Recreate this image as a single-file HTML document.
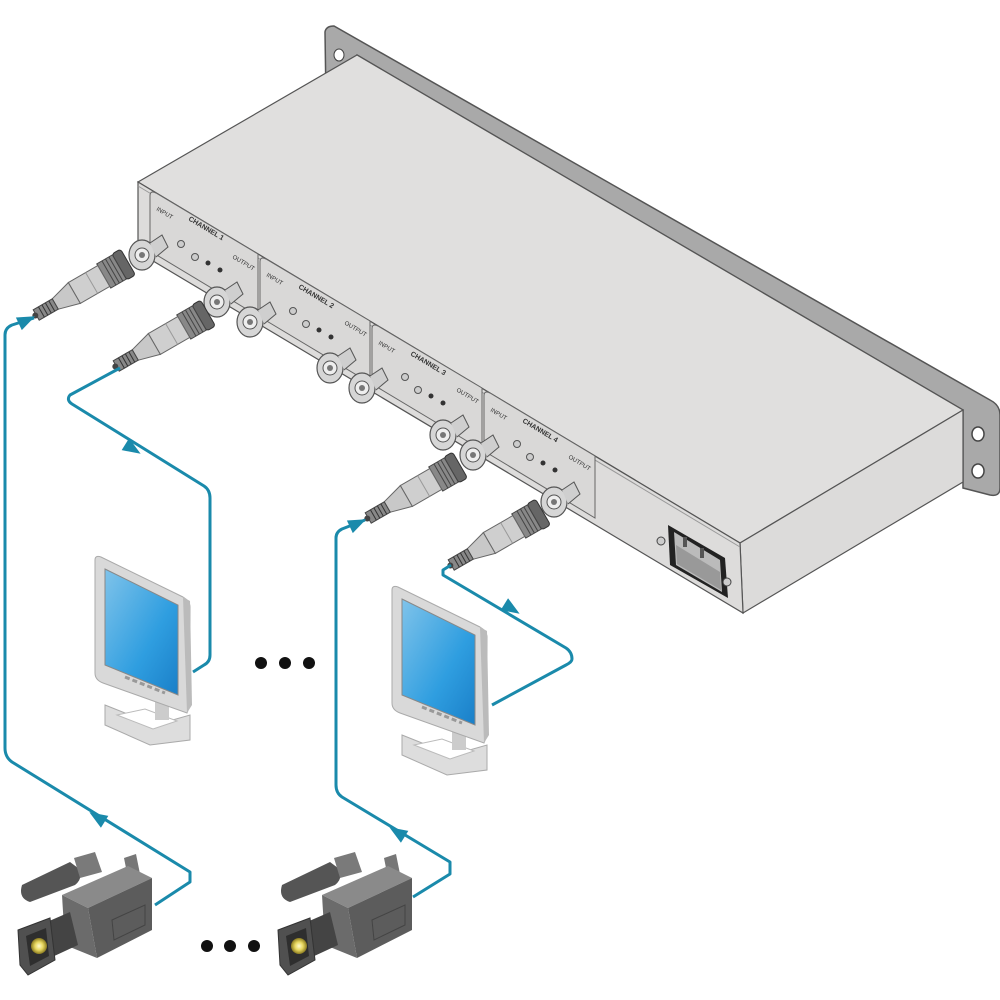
<!DOCTYPE html>
<html><head><style>html,body{margin:0;padding:0;background:#fff}svg{display:block}</style></head>
<body>
<svg width="1000" height="1000" viewBox="0 0 1000 1000" xmlns="http://www.w3.org/2000/svg" font-family="Liberation Sans, sans-serif">
<defs>
<linearGradient id="scr" x1="0" y1="0" x2="1" y2="1"><stop offset="0" stop-color="#7fc3ea"/><stop offset="0.6" stop-color="#2f9ee0"/><stop offset="1" stop-color="#1a7fc8"/></linearGradient>
<radialGradient id="lens"><stop offset="0" stop-color="#fffbd0"/><stop offset="0.5" stop-color="#e8d860"/><stop offset="1" stop-color="#8a7a20"/></radialGradient>
<g id="plug">
  <rect x="0" y="-15" width="10" height="30" rx="3" fill="#666" stroke="#333"/>
  <rect x="10" y="-14" width="18" height="28" fill="#888" stroke="#444"/>
  <line x1="14" y1="-14" x2="14" y2="14" stroke="#444"/><line x1="18" y1="-14" x2="18" y2="14" stroke="#444"/><line x1="22" y1="-14" x2="22" y2="14" stroke="#444"/>
  <rect x="28" y="-12" width="34" height="24" fill="#cfcfcf" stroke="#666"/>
  <line x1="42" y1="-12" x2="42" y2="12" stroke="#999"/>
  <path d="M62 -12 L84 -6 L84 6 L62 12Z" fill="#c8c8c8" stroke="#666"/>
  <rect x="84" y="-6" width="22" height="12" fill="#888" stroke="#444"/>
  <line x1="88" y1="-6" x2="88" y2="6" stroke="#333"/><line x1="92" y1="-6" x2="92" y2="6" stroke="#333"/><line x1="96" y1="-6" x2="96" y2="6" stroke="#333"/><line x1="100" y1="-6" x2="100" y2="6" stroke="#333"/>
  <circle cx="107" cy="0" r="3" fill="#444"/>
</g>
<g id="bnc">
  <ellipse cx="0" cy="0" rx="13" ry="15" fill="#d6d6d6" stroke="#555" stroke-width="1.2"/>
  <circle cx="0" cy="0" r="7" fill="#eee" stroke="#555"/>
  <circle cx="0" cy="0" r="3" fill="#777"/>
  <path d="M8 -12 L20 -20 L26 -8 L14 2" fill="#cfcfcf" stroke="#555"/>
</g>
<path id="arr" d="M9 0 L-9 -7 L-9 7Z"/>
<g id="mon">
  <path d="M10 150 L60 170 L95 160 L95 185 L55 190 L10 170Z" fill="#ddd" stroke="#aaa"/>
  <path d="M22 160 L58 174 L82 166 L50 154Z" fill="#fff" stroke="#bbb"/>
  <rect x="60" y="140" width="14" height="25" fill="#ccc"/>
  <path d="M0 5 Q0 0 6 2 L88 42 Q95 46 95 52 L95 150 L92 158 L8 128 Q0 125 0 118Z" fill="#d9d9d9" stroke="#aaa"/>
  <path d="M88 42 L95 46 L97 150 L92 158Z" fill="#bbb"/>
  <path d="M10 14 L83 50 L83 140 L10 110Z" fill="url(#scr)" stroke="#888"/>
  <path d="M30 122 L70 138" stroke="#999" stroke-width="3" stroke-dasharray="5 3"/>
</g>
<g id="cam">
  <path d="M22 885 Q18 898 30 902 L75 885 Q84 878 78 868 L70 862Z" fill="#555"/>
  <path d="M74 858 L95 852 L102 872 L80 878Z" fill="#7a7a7a"/>
  <path d="M124 858 L136 854 L140 874 L128 878Z" fill="#777"/>
  <path d="M62 895 L128 866 L152 878 L88 908Z" fill="#8a8a8a"/>
  <path d="M88 908 L152 878 L152 930 L97 958Z" fill="#5c5c5c"/>
  <path d="M62 895 L88 908 L97 958 L65 945Z" fill="#6b6b6b"/>
  <path d="M112 920 L145 905 L145 925 L114 940Z" fill="none" stroke="#444"/>
  <path d="M40 925 L70 912 L78 945 L50 958Z" fill="#444"/>
  <path d="M18 930 L50 918 L55 960 L28 975 L20 965Z" fill="#505050" stroke="#333"/>
  <path d="M26 936 L46 928 L49 956 L30 966Z" fill="#2e2e2e"/>
  <circle cx="39" cy="946" r="8" fill="url(#lens)"/>
</g>
</defs>

<path d="M325 32 Q326 26 334 26 L990 400 Q1000 405 1000 415 L1000 488 Q1000 497 990 495 L963 488 L963 410 L357 55 L326 100Z" fill="#a9a9a9" stroke="#555" stroke-width="1.5"/>
<ellipse cx="978" cy="434" rx="6" ry="7" fill="#fff" stroke="#444" stroke-width="1.5"/>
<ellipse cx="978" cy="471" rx="6" ry="7" fill="#fff" stroke="#444" stroke-width="1.5"/>
<ellipse cx="339" cy="55" rx="5" ry="6" fill="#fff" stroke="#444"/>
<path d="M138 182 L357 55 L963 410 L740 543Z" fill="#e0dfde" stroke="#555" stroke-width="1.2"/>
<path d="M740 543 L963 410 L963 482 L743 613Z" fill="#dcdbda" stroke="#555" stroke-width="1.2"/>
<path d="M138 182 L740 543 L743 613 L138 252Z" fill="#dddcdb" stroke="#555" stroke-width="1.2"/>
<path d="M138 186 L740 547" stroke="#999" stroke-width="1"/>

<g fill="#d9d8d7" stroke="#666" stroke-width="1">
<path d="M150 196 Q150 190 156 193 L258 254 L258 316 L150 251Z"/>
<path d="M260 262 Q260 256 266 259 L370 321 L370 383 L260 317Z"/>
<path d="M372 329 Q372 323 378 326 L482 388 L482 450 L372 384Z"/>
<path d="M484 396 Q484 390 490 393 L595 456 L595 518 L484 451Z"/>
</g>
<g font-size="6" fill="#333">
<text transform="translate(156,210) rotate(31)">INPUT</text><text transform="translate(188,220) rotate(31)" font-weight="bold" font-size="7">CHANNEL 1</text>
<text transform="translate(232,258) rotate(31)">OUTPUT</text>
<text transform="translate(266,276) rotate(31)">INPUT</text><text transform="translate(298,288) rotate(31)" font-weight="bold" font-size="7">CHANNEL 2</text>
<text transform="translate(344,324) rotate(31)">OUTPUT</text>
<text transform="translate(378,344) rotate(31)">INPUT</text><text transform="translate(410,355) rotate(31)" font-weight="bold" font-size="7">CHANNEL 3</text>
<text transform="translate(456,391) rotate(31)">OUTPUT</text>
<text transform="translate(490,411) rotate(31)">INPUT</text><text transform="translate(522,422) rotate(31)" font-weight="bold" font-size="7">CHANNEL 4</text>
<text transform="translate(568,458) rotate(31)">OUTPUT</text>
</g>
<g fill="#ccc" stroke="#555">
<circle cx="181" cy="244" r="3.5"/><circle cx="195" cy="257" r="3.5"/>
<circle cx="293" cy="311" r="3.5"/><circle cx="306" cy="324" r="3.5"/>
<circle cx="405" cy="377" r="3.5"/><circle cx="418" cy="390" r="3.5"/>
<circle cx="517" cy="444" r="3.5"/><circle cx="530" cy="457" r="3.5"/>
</g>
<g fill="#333">
<circle cx="208" cy="263" r="2.5"/><circle cx="220" cy="270" r="2.5"/>
<circle cx="319" cy="330" r="2.5"/><circle cx="331" cy="337" r="2.5"/>
<circle cx="431" cy="396" r="2.5"/><circle cx="443" cy="403" r="2.5"/>
<circle cx="543" cy="463" r="2.5"/><circle cx="555" cy="470" r="2.5"/>
</g>
<use href="#bnc" x="142" y="255"/><use href="#bnc" x="217" y="302"/>
<use href="#bnc" x="250" y="322"/><use href="#bnc" x="330" y="368"/>
<use href="#bnc" x="362" y="388"/><use href="#bnc" x="443" y="435"/>
<use href="#bnc" x="473" y="455"/><use href="#bnc" x="554" y="502"/>

<path d="M668 525 L725 558 L728 598 L670 565Z" fill="#222"/>
<path d="M674 532 L720 560 L722 592 L676 565Z" fill="#bbb"/>
<path d="M676 545 L720 572 L721 590 L677 564Z" fill="#999"/>
<rect x="683" y="537" width="4" height="10" fill="#555"/><rect x="700" y="548" width="4" height="10" fill="#555"/>
<circle cx="661" cy="541" r="4" fill="#ccc" stroke="#444"/><circle cx="727" cy="582" r="4" fill="#ccc" stroke="#444"/>

<use href="#plug" transform="translate(128,262) rotate(150)"/>
<use href="#plug" transform="translate(208,313) rotate(150)"/>
<use href="#plug" transform="translate(460,465) rotate(150)"/>
<use href="#plug" transform="translate(543,512) rotate(150)"/>

<g fill="none" stroke="#1a8aab" stroke-width="3" stroke-linejoin="round">
<path d="M155 905 L190 882 L190 872 L12 762 Q5 757 5 748 L5 335 Q5 328 12 325 L34 318"/>
<path d="M120 368 L70 395 Q66 400 72 404 L204 486 Q210 490 210 498 L210 655 Q210 662 204 665 L193 672"/>
<path d="M413 897 L450 874 L450 862 L342 797 Q336 793 336 785 L336 538 Q336 532 342 529 L365 520"/>
<path d="M451 565 L443 570 L443 575 L566 648 Q572 652 572 659 Q572 662 566 665 L492 705"/>
</g>
<g fill="#1a8aab">
<use href="#arr" transform="translate(97,817) rotate(212)"/>
<use href="#arr" transform="translate(27,320) rotate(-25)"/>
<use href="#arr" transform="translate(133,449) rotate(32)"/>
<use href="#arr" transform="translate(397,832) rotate(212)"/>
<use href="#arr" transform="translate(358,523) rotate(-25)"/>
<use href="#arr" transform="translate(512,609) rotate(32)"/>
</g>

<use href="#mon" x="95" y="555"/>
<use href="#mon" x="392" y="585"/>

<use href="#cam"/>
<use href="#cam" x="260"/>

<g fill="#111">
<circle cx="261" cy="663" r="6"/><circle cx="285" cy="663" r="6"/><circle cx="309" cy="663" r="6"/>
<circle cx="207" cy="946" r="6"/><circle cx="230" cy="946" r="6"/><circle cx="254" cy="946" r="6"/>
</g>
</svg>
</body></html>
